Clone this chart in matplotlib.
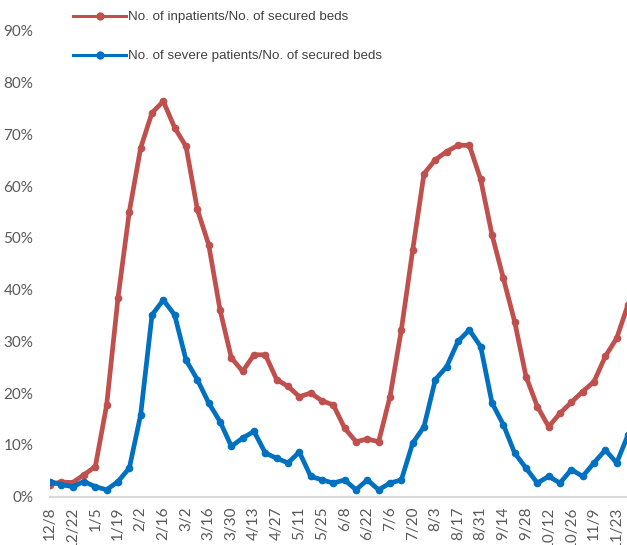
import numpy as np
import matplotlib
matplotlib.use('Agg')
from matplotlib import pyplot as plt
from matplotlib.ticker import PercentFormatter

# weekly ratios (%), 12/8 to 11/30
inpatients = [2.3, 2.8, 2.7, 4.2, 5.8, 17.7, 38.4, 55.1, 67.4, 74.2,
              76.4, 71.3, 67.7, 55.5, 48.7, 36.1, 26.8, 24.2, 27.4, 27.4,
              22.6, 21.3, 19.3, 20.0, 18.5, 17.7, 13.2, 10.6, 11.1, 10.6,
              19.3, 32.2, 47.6, 62.4, 65.1, 66.7, 67.9, 67.9, 61.3, 50.6,
              42.2, 33.8, 23.2, 17.4, 13.5, 16.1, 18.2, 20.3, 22.2, 27.1,
              30.6, 37.1]
severe = [2.9, 2.3, 1.9, 2.9, 1.9, 1.3, 2.9, 5.5, 15.8, 35.1,
          38.0, 35.1, 26.4, 22.6, 18.1, 14.5, 9.7, 11.3, 12.6, 8.4,
          7.4, 6.5, 8.6, 3.9, 3.2, 2.6, 3.2, 1.3, 3.2, 1.3,
          2.6, 3.2, 10.3, 13.5, 22.6, 25.1, 30.0, 32.2, 29.0, 18.1,
          13.9, 8.4, 5.5, 2.6, 3.9, 2.6, 5.2, 3.9, 6.5, 9.0,
          6.5, 11.9]
tick_labels = ['12/8', '12/22', '1/5', '1/19', '2/2', '2/16', '3/2', '3/16',
               '3/30', '4/13', '4/27', '5/11', '5/25', '6/8', '6/22', '7/6',
               '7/20', '8/3', '8/17', '8/31', '9/14', '9/28', '10/12',
               '10/26', '11/9', '11/23']

W, H = 627, 545
fig = plt.figure(figsize=(W / 100, H / 100), dpi=100)
ax = fig.add_axes([50 / W, (H - 496.5) / H, 578 / W, 465.5 / H])

x = np.arange(len(inpatients))
ax.plot(x, inpatients, color='#C0504D', lw=3.4, marker='o', ms=4.5,
        label='No. of inpatients/No. of secured beds', solid_joinstyle='round')
ax.plot(x, severe, color='#0070C0', lw=3.4, marker='o', ms=4.5,
        label='No. of severe patients/No. of secured beds', solid_joinstyle='round')

ax.set_xlim(0, 51)
ax.set_ylim(0, 90)
ax.set_yticks(np.arange(0, 91, 10))
ax.yaxis.set_major_formatter(PercentFormatter(decimals=0))
ax.set_xticks(np.arange(0, 52, 2))
# long labels run off the bottom edge, as in the source picture
ax.set_xticklabels(tick_labels, rotation=90, va='top', ha='center')

for s in ['top', 'right', 'left']:
    ax.spines[s].set_visible(False)
ax.spines['bottom'].set_color('#D9D9D9')
ax.spines['bottom'].set_linewidth(1.5)
ax.tick_params(length=0, labelsize=11, colors='#595959', labelfontfamily='Lato')
ax.tick_params(axis='y', pad=12)
ax.tick_params(axis='x', pad=7)

leg = ax.legend(loc='upper left', bbox_to_anchor=(73 / W, 1 - 11 / H),
                bbox_transform=fig.transFigure, frameon=False, borderpad=0,
                borderaxespad=0, handlelength=4.0, handletextpad=0.15,
                labelspacing=2.0, numpoints=1,
                prop={'family': 'Liberation Sans', 'size': 9.6})
for t in leg.get_texts():
    t.set_color('#404040')
for h in leg.legend_handles:
    h.set_linewidth(2.2)
    h.set_markersize(5)

fig.savefig('out.png', dpi=100)
